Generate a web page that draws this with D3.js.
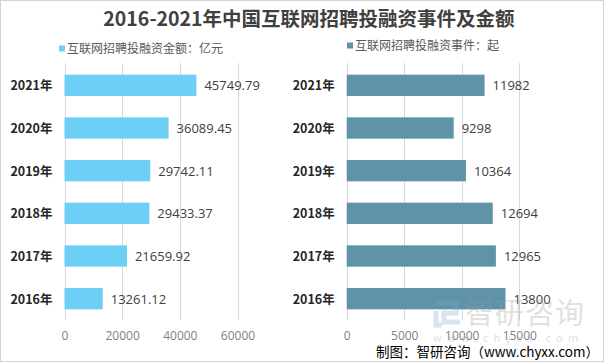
<!DOCTYPE html>
<html>
<head>
<meta charset="utf-8">
<script src="https://cdn.jsdelivr.net/npm/d3@7"></script>
<style>
  body { margin: 0; background: #fff; }
  svg { display: block; font-family: "Noto Sans CJK SC", "Open Sans", sans-serif; }
</style>
</head>
<body>
<div id="chart"></div>
<script>
const W = 604, H = 363

const years = ["2021年", "2020年", "2019年", "2018年", "2017年", "2016年"]
const amounts = [45749.79, 36089.45, 29742.11, 29433.37, 21659.92, 13261.12]
const amountLabels = ["45749.79", "36089.45", "29742.11", "29433.37", "21659.92", "13261.12"]
const events = [11982, 9298, 10364, 12694, 12965, 13800]
const amountTicks = [0, 20000, 40000, 60000]
const eventTicks = [0, 5000, 10000, 15000]

const svg = d3.select("#chart").append("svg")
    .attr("width", W)
    .attr("height", H)

// dotted frame
svg.append("rect")
    .attr("x", 0.5).attr("y", 0.5)
    .attr("width", W - 1).attr("height", H - 2)
    .attr("fill", "none")
    .attr("stroke", "#a6a6a6")
    .attr("stroke-dasharray", "1,1")

svg.append("text")
    .attr("x", 309).attr("y", 26)
    .attr("text-anchor", "middle")
    .attr("font-size", 19.5).attr("font-weight", "bold")
    .attr("fill", "#404040")
    .text("2016-2021年中国互联网招聘投融资事件及金额")

function panel(opts) {
    let g = svg.append("g")
    let x = d3.scaleLinear().domain(opts.domain).range([opts.x0, opts.x1])
    let y = d3.scaleBand().domain(years).range([64, 320]).paddingInner(0.5).paddingOuter(0.25)

    g.selectAll(".grid")
        .data(opts.ticks)
        .enter().append("line")
        .attr("x1", d => Math.round(x(d)) + 0.5)
        .attr("x2", d => Math.round(x(d)) + 0.5)
        .attr("y1", 63).attr("y2", 320)
        .attr("stroke", "#d9d9d9")

    g.selectAll(".bar")
        .data(opts.values)
        .enter().append("rect")
        .attr("x", x(0))
        .attr("y", (d, i) => y(years[i]))
        .attr("width", d => x(d) - x(0))
        .attr("height", y.bandwidth())
        .attr("fill", opts.color)

    g.selectAll(".val")
        .data(opts.values)
        .enter().append("text")
        .attr("x", d => x(d) + 8)
        .attr("y", (d, i) => y(years[i]) + y.bandwidth() / 2 + 5)
        .attr("font-size", 13)
        .attr("font-family", "'Open Sans', sans-serif")
        .attr("fill", "#404040")
        .text((d, i) => opts.labels[i])

    g.selectAll(".yr")
        .data(years)
        .enter().append("text")
        .attr("x", opts.x0 - 12)
        .attr("y", d => y(d) + y.bandwidth() / 2 + 5)
        .attr("text-anchor", "end")
        .attr("font-size", 12.5).attr("font-weight", "bold")
        .attr("fill", "#262626")
        .text(d => d)

    let axis = d3.axisBottom(x).tickValues(opts.ticks).tickFormat(d3.format("d")).tickSize(0).tickPadding(9)
    let ax = g.append("g").attr("transform", "translate(0,322)").call(axis)
    ax.select(".domain").remove()
    ax.selectAll("text")
        .attr("font-size", 12)
        .attr("fill", "#7f7f7f")
        .attr("font-family", "'Open Sans', sans-serif")

    g.append("rect")
        .attr("x", opts.legX).attr("y", opts.legY - 3)
        .attr("width", 6).attr("height", 6)
        .attr("fill", opts.color)
    g.append("text")
        .attr("x", opts.legX + 8).attr("y", opts.legY + 4.5)
        .attr("font-size", 12)
        .attr("fill", "#595959")
        .text(opts.legend)
}

panel({
    values: amounts, labels: amountLabels, domain: [0, 60000], ticks: amountTicks,
    x0: 64.5, x1: 237.5, color: "#6dcff6",
    legX: 59, legY: 48.5, legend: "互联网招聘投融资金额：亿元"
})

panel({
    values: events, labels: events.map(String), domain: [0, 15000], ticks: eventTicks,
    x0: 346.7, x1: 519.3, color: "#5e93a8",
    legX: 347, legY: 45.5, legend: "互联网招聘投融资事件：起"
})

// watermark
let wm = svg.append("g").attr("opacity", 0.3)
wm.append("path")
    .attr("d", "M436,303 h20 v10 h-12 v9 h16 M436,311 v14 h6")
    .attr("fill", "none").attr("stroke", "#7fa7cf").attr("stroke-width", 5)
wm.append("text").attr("x", 465).attr("y", 324)
    .attr("font-size", 29).attr("fill", "#9a9a9a").attr("letter-spacing", 1)
    .text("智研咨询")
wm.append("text").attr("x", 433).attr("y", 342)
    .attr("font-size", 11).attr("fill", "#9a9a9a").attr("letter-spacing", 5.2)
    .text("www.chyxx.com")

svg.append("text")
    .attr("x", 599).attr("y", 357)
    .attr("text-anchor", "end")
    .attr("font-size", 13.5)
    .attr("fill", "#000")
    .text("制图：智研咨询（www.chyxx.com）")
</script>
</body>
</html>
